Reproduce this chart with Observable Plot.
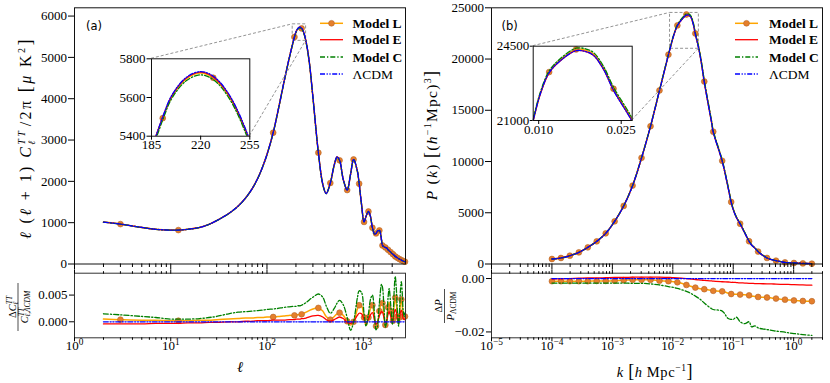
<!DOCTYPE html>
<html><head><meta charset="utf-8">
<script src="https://cdn.jsdelivr.net/npm/d3@7"></script>
<script src="https://cdn.jsdelivr.net/npm/@observablehq/plot@0.6"></script>
<style>
html,body{margin:0;padding:0;background:#fff;}
#fig{position:relative;width:830px;height:383px;overflow:hidden;background:#fff;font-family:"Liberation Serif",serif;}
#fig svg{position:absolute;left:0;top:0;}
#fig svg text{font-family:"Liberation Serif",serif;}
</style></head>
<body><div id="fig"></div>
<script>
// ---------- (a) CMB TT spectrum ----------
const ell = [2,3,5,7,10,12,15,20,25,30,40,50,60,70,80,90,100,116,130,150,170,193,200,210,220,229,240,255,275,300,342,380,412,455,500,535,568,620,681,740,794,870,907,960,1020,1070,1133,1190,1246,1312,1359,1400,1472,1550,1585,1640,1698,1750,1811,1860,1924,2010,2037,2100,2150,2220,2263,2330,2376,2440,2489,2550,2602,2660,2715,2750];
const ttLCDM = [1015,966,884,840,820,821,840,885,960,1050,1220,1400,1600,1820,2070,2350,2650,3180,3700,4400,4980,5500,5618,5705,5734,5710,5618,5380,4900,4050,2700,1933,1706,1960,2400,2592,2513,2050,1790,2180,2530,2250,1950,1450,1020,1150,1271,1150,880,725,740,790,815,580,450,420,400,390,345,320,290,245,238,210,185,165,150,130,120,105,95,82,72,62,55,50];
// relative difference (C_LCDM - C_model)/C_LCDM
const dTT_C = [.0015,.0013,.0010,.0008,.0005,.0005,.0005,.0006,.0008,.0010,
 .0015,.0018,.0019,.0020,.0021,.0022,.0023,.0024,.0025,.0027,
 .0028,.0029,.0029,.0030,.0030,.0031,.0033,.0036,.0041,.0046,
 .0052,.0046,.0030,.0016,.0025,.0035,.0040,.0032,.0008,-.0016,
 .0000,.0045,.0058,.0055,.0015,-.0008,.0015,.0042,.0050,.0012,
 -.0015,-.0010,.0035,.0070,.0065,.0030,-.0010,.0000,.0045,.0062,
 .0035,-.0005,.0005,.0060,.0085,.0055,.0020,-.0008,.0015,.0060,
 .0075,.0050,.0020,.0010,.0018,.0020];
const dTT_L = [.0005,.0004,.0003,.0003,.0002,.0002,.0002,.0003,.0003,.0004,
 .0005,.0006,.0007,.0007,.0008,.0008,.0009,.0009,.0010,.0011,
 .0012,.0012,.0013,.0013,.0014,.0014,.0016,.0018,.0021,.0024,
 .0026,.0020,.0010,.0004,.0010,.0015,.0017,.0012,.0001,-.0006,
 .0000,.0024,.0031,.0030,.0008,-.0007,.0008,.0025,.0031,.0005,
 -.0008,-.0005,.0020,.0037,.0035,.0015,-.0006,.0000,.0027,.0036,
 .0020,-.0003,.0002,.0033,.0045,.0030,.0010,-.0005,.0008,.0035,
 .0042,.0028,.0010,.0006,.0010,.0011];
const dTT_E = [-.0004,-.0004,-.0004,-.0003,-.0003,-.0003,-.0002,-.0002,-.0001,-.0001,
 .0000,.0000,.0001,.0001,.0002,.0002,.0002,.0003,.0003,.0003,
 .0004,.0004,.0005,.0005,.0005,.0006,.0006,.0007,.0009,.0011,
 .0012,.0009,.0004,.0001,.0004,.0007,.0009,.0006,-.0001,-.0003,
 .0001,.0012,.0016,.0015,.0005,-.0003,.0005,.0013,.0017,.0003,
 -.0004,-.0002,.0011,.0019,.0018,.0008,-.0002,.0001,.0014,.0019,
 .0011,.0000,.0002,.0017,.0023,.0016,.0006,-.0001,.0005,.0018,
 .0022,.0014,.0006,.0004,.0005,.0006];
const markerEll = [3,12,116,193,229,342,455,568,681,794,907,1020,1133,1246,1359,1472,1585,1698,1811,1924,2037,2150,2263,2376,2489,2602,2715];

// ---------- (b) matter power spectrum ----------
const kVals = [1.0e-4,1.41e-4,1.98e-4,2.79e-4,3.92e-4,5.51e-4,7.76e-4,1.09e-3,1.54e-3,2.16e-3,
 3.04e-3,4.28e-3,6.02e-3,8.47e-3,9.0e-3,1.03e-2,1.19e-2,1.40e-2,1.68e-2,1.85e-2,
 2.00e-2,2.18e-2,2.36e-2,2.69e-2,2.99e-2,3.32e-2,4.38e-2,4.67e-2,6.57e-2,8.26e-2,
 9.25e-2,0.100,0.1135,0.130,0.156,0.183,0.201,0.228,0.258,0.276,
 0.362,0.430,0.510,0.718,0.810,1.01,1.42,2.00];
const pkLCDM = [488,586,810,1133,1621,2207,2988,4160,5664,7647,
 10352,13438,16924,20411,21000,22258,23250,23830,24290,24250,
 24060,23400,22420,21000,19500,17735,13800,12852,10020,7400,
 6016,5300,4500,3906,3000,2207,1850,1550,1201,1050,
 586,430,322,156,125,98,59,30];
const dP_L = [-.0010,-.0010,-.0010,-.0010,-.0010,-.0009,-.0009,-.0008,-.0006,-.0005,
 -.0005,-.0005,-.0008,-.0010,-.0011,-.0012,-.0014,-.0018,-.0024,-.0027,
 -.0029,-.0032,-.0034,-.0037,-.0039,-.0040,-.0045,-.0046,-.0048,-.0055,
 -.0058,-.0059,-.0059,-.0060,-.0061,-.0063,-.0065,-.0067,-.0069,-.0070,
 -.0071,-.0073,-.0075,-.0079,-.0080,-.0082,-.0084,-.0085];
const dP_E = [-.0002,-.0001,.0000,.0001,.0002,.0002,.0003,.0004,.0004,.0005,
 .0005,.0005,.0005,.0004,.0004,.0003,.0002,.0001,.0000,-.0001,
 -.0002,-.0003,-.0004,-.0005,-.0006,-.0007,-.0009,-.0010,-.0012,-.0013,
 -.0014,-.0014,-.0015,-.0016,-.0017,-.0018,-.0018,-.0019,-.0019,-.0019,
 -.0020,-.0020,-.0021,-.0022,-.0022,-.0023,-.0024,-.0025];
const dP_C = [-.0017,-.0017,-.0017,-.0017,-.0017,-.0017,-.0017,-.0017,-.0017,-.0018,
 -.0018,-.0020,-.0024,-.0030,-.0031,-.0033,-.0037,-.0042,-.0048,-.0052,
 -.0056,-.0061,-.0066,-.0074,-.0082,-.0092,-.0113,-.0116,-.0122,-.0150,
 -.0153,-.0153,-.0145,-.0162,-.0169,-.0162,-.0181,-.0177,-.0185,-.0187,
 -.0191,-.0194,-.0197,-.0201,-.0203,-.0206,-.0210,-.0213];
const markerK = [1.0e-4,1.41e-4,1.98e-4,2.79e-4,3.92e-4,5.51e-4,7.76e-4,1.09e-3,1.54e-3,2.16e-3,
 3.04e-3,4.28e-3,6.02e-3,8.47e-3,1.19e-2,1.68e-2,2.36e-2,3.32e-2,4.67e-2,6.57e-2,
 9.25e-2,0.130,0.183,0.258,0.362,0.510,0.718,1.01,1.42,2.00];

// ---------- ticks, labels, ranges ----------
const ellMajor = [1,10,100,1000], ellExp = ["0","1","2","3"];
const kMajor = [1e-5,1e-4,1e-3,1e-2,1e-1,1], kExp = ["−5","−4","−3","−2","−1","0"];
const ttTicks = [0,1000,2000,3000,4000,5000,6000];
const pTicks = [0,5000,10000,15000,20000,25000];
const dTTTicks = [0,0.005], dTTTickLabels = ["0.000","0.005"];
const dPTicks = [-0.02,0], dPTickLabels = ["−0.02","0.00"];
const insetEllRange = [185,255], insetTTRange = [5400,5800];
const insetEllTicks = [185,220,255], insetTTTicks = [5400,5600,5800];
const insetKRange = [0.009,0.027], insetPRange = [21000,24500];
const insetKTicks = [0.010,0.025], insetKTickLabels = ["0.010","0.025"];
const insetPTicks = [21000,24500];
const seriesNames = ["Model L","Model E","Model C","ΛCDM"];

// ---------- tables ----------
const leftRows = ell.map((l,i)=>({x:l, lcdm:ttLCDM[i], L:ttLCDM[i]*(1-dTT_L[i]), E:ttLCDM[i]*(1-dTT_E[i]), C:ttLCDM[i]*(1-dTT_C[i]), rL:dTT_L[i], rE:dTT_E[i], rC:dTT_C[i], r0:0}));
const rightRows = kVals.map((k,i)=>({x:k, lcdm:pkLCDM[i], L:pkLCDM[i]*(1-dP_L[i]), E:pkLCDM[i]*(1-dP_E[i]), C:pkLCDM[i]*(1-dP_C[i]), rL:dP_L[i], rE:dP_E[i], rC:dP_C[i], r0:0}));
const leftMarks = leftRows.filter(d=>markerEll.includes(d.x));
const rightMarks = rightRows.filter(d=>markerK.includes(d.x));

const ellMinor = []; for (const p of [1,10,100,1000]) for (let m=2;m<=9;m++){ if (m*p<=2750) ellMinor.push(m*p); }
const kMinor = []; for (const p of [1e-5,1e-4,1e-3,1e-2,1e-1,1]) for (let m=2;m<=9;m++){ if (m*p<=3) kMinor.push(m*p); }

// ---------- styles ----------
const W = 830, H = 383;
const FONT = '"Liberation Serif", serif';
const baseStyle = {fontFamily: FONT, fontSize:"13px", color:"#000", background:"transparent", overflow:"visible"};
const sL = {stroke:"#ffa500", strokeWidth:1.5};
const sE = {stroke:"#ff0000", strokeWidth:1.3};
const sC = {stroke:"#008000", strokeWidth:1.3, strokeDasharray:"5,2,1.3,2"};
const s0 = {stroke:"#0000ff", strokeWidth:1.3, strokeDasharray:"5,1.6,1.2,1.6,1.2,1.6"};
const dotStyle = {r:2.9, fill:"#e57f2c", stroke:"#b3652a", strokeWidth:0.6};
const CURVE = "catmull-rom";

function seriesMarks(rows, marks, keys, clip){
  const [kL,kE,kC,k0] = keys;
  const o = {x:"x", curve:CURVE, clip};
  return [
    Plot.line(rows, {...o, y:kL, ...sL}),
    Plot.dot(marks, {x:"x", y:kL, clip, ...dotStyle}),
    Plot.line(rows, {...o, y:kE, ...sE}),
    Plot.line(rows, {...o, y:kC, ...sC}),
    Plot.line(rows, {...o, y:k0, ...s0})
  ];
}
function mk(opts){ return Plot.plot({width:W, height:H, style:baseStyle, ...opts}); }
function fixText(svg){
  d3.select(svg).attr("font-family", FONT).attr("font-size", 13);
  d3.select(svg).selectAll("text").attr("font-family", FONT).style("font-family", FONT).each(function(){
    const m = /^10\^(.+)$/.exec(this.textContent);
    if (m){ const s=d3.select(this); s.text(null); s.append("tspan").text("10"); s.append("tspan").attr("dy","-0.5em").attr("font-size","0.72em").text(m[1]); }
  });
  return svg;
}
const blank = () => "";
const fig = document.getElementById("fig");
const add = svg => { fig.appendChild(svg); return svg; };

// ---------- (a) main ----------
const mainL = mk({
  marginLeft:74, marginRight:W-405, marginTop:7.3, marginBottom:H-263.5,
  x:{type:"log", domain:[1,2750]}, y:{domain:[0,6200]},
  marks:[
    Plot.rect([{x1:insetEllRange[0],x2:insetEllRange[1],y1:insetTTRange[0],y2:insetTTRange[1]}],{x1:"x1",x2:"x2",y1:"y1",y2:"y2",fill:"none",stroke:"#888",strokeWidth:0.9,strokeDasharray:"3,2"}),
    ...seriesMarks(leftRows, leftMarks, ["L","E","C","lcdm"], false),
    Plot.frame({stroke:"#111", strokeWidth:1}),
    Plot.axisY({ticks:ttTicks, tickSize:6, tickPadding:1.5, tickFormat:d=>String(d), label:null}),
    Plot.axisX({ticks:ellMajor, tickSize:6, tickFormat:blank, label:null}),
    Plot.axisX({ticks:ellMinor, tickSize:3.5, tickFormat:blank, label:null})
  ]
});
// ---------- (b) main ----------
const mainR = mk({
  marginLeft:491, marginRight:W-822, marginTop:7.3, marginBottom:H-263.5,
  x:{type:"log", domain:[1e-5,3]}, y:{domain:[0,25000]},
  marks:[
    Plot.rect([{x1:insetKRange[0],x2:insetKRange[1],y1:insetPRange[0],y2:insetPRange[1]}],{x1:"x1",x2:"x2",y1:"y1",y2:"y2",fill:"none",stroke:"#888",strokeWidth:0.9,strokeDasharray:"3,2"}),
    ...seriesMarks(rightRows, rightMarks, ["L","E","C","lcdm"], false),
    Plot.frame({stroke:"#111", strokeWidth:1}),
    Plot.axisY({ticks:pTicks, tickSize:6, tickPadding:1.5, tickFormat:d=>String(d), label:null}),
    Plot.axisX({ticks:kMajor, tickSize:6, tickFormat:blank, label:null}),
    Plot.axisX({ticks:kMinor, tickSize:3.5, tickFormat:blank, label:null})
  ]
});
// ---------- (a) ratio ----------
const botL = mk({
  marginLeft:74, marginRight:W-405, marginTop:272.7, marginBottom:H-337.3,
  x:{type:"log", domain:[1,2750]}, y:{domain:[-0.0030,0.0091]},
  marks:[
    ...seriesMarks(leftRows, leftMarks, ["rL","rE","rC","r0"], false),
    Plot.frame({stroke:"#333", strokeWidth:1}),
    Plot.axisY({ticks:dTTTicks, tickSize:5, tickPadding:2, tickFormat:d=>dTTTickLabels[dTTTicks.indexOf(d)], label:null}),
    Plot.axisX({anchor:"top", ticks:ellMajor, tickSize:4, tickFormat:blank, label:null}),
    Plot.axisX({anchor:"top", ticks:ellMinor, tickSize:2.5, tickFormat:blank, label:null}),
    Plot.axisX({ticks:ellMajor, tickSize:4, tickPadding:-1, tickFormat:d=>"10^"+ellExp[ellMajor.indexOf(d)], label:null}),
    Plot.axisX({ticks:ellMinor, tickSize:2.5, tickFormat:blank, label:null})
  ]
});
// ---------- (b) ratio ----------
const botR = mk({
  marginLeft:491, marginRight:W-822, marginTop:272.7, marginBottom:H-337.3,
  x:{type:"log", domain:[1e-5,3]}, y:{domain:[-0.0222,0.002]},
  marks:[
    ...seriesMarks(rightRows, rightMarks, ["rL","rE","rC","r0"], false),
    Plot.frame({stroke:"#333", strokeWidth:1}),
    Plot.axisY({ticks:dPTicks, tickSize:5, tickPadding:2, tickFormat:d=>dPTickLabels[dPTicks.indexOf(d)], label:null}),
    Plot.axisX({anchor:"top", ticks:kMajor, tickSize:4, tickFormat:blank, label:null}),
    Plot.axisX({anchor:"top", ticks:kMinor, tickSize:2.5, tickFormat:blank, label:null}),
    Plot.axisX({ticks:kMajor, tickSize:4, tickPadding:-1, tickFormat:d=>"10^"+kExp[kMajor.indexOf(d)], label:null}),
    Plot.axisX({ticks:kMinor, tickSize:2.5, tickFormat:blank, label:null})
  ]
});
// ---------- insets ----------
const insL = mk({
  marginLeft:151, marginRight:W-249.3, marginTop:58.3, marginBottom:H-135.7,
  x:{domain:insetEllRange}, y:{domain:insetTTRange},
  marks:[
    Plot.frame({fill:"#fff", stroke:"none"}),
    ...seriesMarks(leftRows, leftMarks, ["L","E","C","lcdm"], true),
    Plot.frame({stroke:"#111", strokeWidth:1}),
    Plot.axisY({ticks:insetTTTicks, tickSize:4.5, tickPadding:1.5, tickFormat:d=>String(d), label:null}),
    Plot.axisX({ticks:insetEllTicks, tickSize:4, tickPadding:0, tickFormat:d=>String(d), label:null})
  ]
});
const insR = mk({
  marginLeft:532.7, marginRight:W-631.7, marginTop:45.7, marginBottom:H-120,
  x:{domain:insetKRange}, y:{domain:insetPRange},
  marks:[
    Plot.frame({fill:"#fff", stroke:"none"}),
    ...seriesMarks(rightRows, rightMarks, ["L","E","C","lcdm"], true),
    Plot.frame({stroke:"#111", strokeWidth:1}),
    Plot.axisY({ticks:insetPTicks, tickSize:3, tickPadding:1, tickFormat:d=>String(d), label:null}),
    Plot.axisX({ticks:insetKTicks, tickSize:4, tickPadding:0, tickFormat:d=>insetKTickLabels[insetKTicks.indexOf(d)], label:null})
  ]
});

[mainL, mainR, botL, botR].forEach(s=>add(fixText(s)));

// connectors between zoom rectangles and insets (from the scales)
const svgNS = "http://www.w3.org/2000/svg";
function pt(svg, x, y){ return [svg.scale("x").apply(x), svg.scale("y").apply(y)]; }
const conn = [
  [pt(insL, insetEllRange[0], insetTTRange[1]), pt(mainL, insetEllRange[0], insetTTRange[1])],
  [pt(insL, insetEllRange[1], insetTTRange[0]), pt(mainL, insetEllRange[1], insetTTRange[0])],
  [pt(insR, insetKRange[0], insetPRange[1]), pt(mainR, insetKRange[0], insetPRange[1])],
  [pt(insR, insetKRange[1], insetPRange[0]), pt(mainR, insetKRange[1], insetPRange[0])]
];
const cs = document.createElementNS(svgNS,"svg");
cs.setAttribute("width",W); cs.setAttribute("height",H);
cs.innerHTML = conn.map(([a,b])=>`<line x1="${a[0]}" y1="${a[1]}" x2="${b[0]}" y2="${b[1]}" stroke="#888" stroke-width="0.9" stroke-dasharray="3,2"/>`).join("");
add(cs);
add(fixText(insL)); add(fixText(insR));

// ---------- legends and labels ----------
const ov = document.createElementNS(svgNS,"svg");
ov.setAttribute("width",W); ov.setAttribute("height",H);
ov.setAttribute("font-family", FONT);
const rowsY = [23.3, 39.7, 57, 74];
const styles = [sL, sE, sC, s0];
function legend(x1, x2, tx){
  let s = "";
  seriesNames.forEach((name,i)=>{
    const st = styles[i], y = rowsY[i];
    s += `<line x1="${x1}" x2="${x2}" y1="${y}" y2="${y}" stroke="${st.stroke}" stroke-width="${st.strokeWidth}" ${st.strokeDasharray?`stroke-dasharray="${st.strokeDasharray}"`:""}/>`;
    if (i===0) s += `<circle cx="${(x1+x2)/2}" cy="${y}" r="${dotStyle.r}" fill="${dotStyle.fill}" stroke="${dotStyle.stroke}" stroke-width="0.6"/>`;
    s += `<text x="${tx}" y="${y+4.5}" font-size="13.5" ${i<3?'font-weight="bold"':''}>${name}</text>`;
  });
  return s;
}
ov.innerHTML = `
${legend(320,343,352.5)}
${legend(735,758,769)}
<text x="86" y="29.5" style="font-family:'DejaVu Sans',sans-serif;font-size:11.5px">(a)</text>
<text x="501.5" y="29.5" style="font-family:'DejaVu Sans',sans-serif;font-size:11.5px">(b)</text>
<text transform="translate(31,138) rotate(-90)" text-anchor="middle" font-size="16" letter-spacing="2.4"><tspan font-style="italic">ℓ</tspan> (<tspan font-style="italic">ℓ</tspan> + 1) <tspan font-style="italic">C</tspan><tspan font-style="italic" font-size="10" dy="-6.5">TT</tspan><tspan font-style="italic" font-size="10" dx="-16" dy="10">ℓ</tspan><tspan dx="12" dy="-3.5">/2π  </tspan><tspan font-size="18">[</tspan><tspan font-style="italic">μ</tspan> K<tspan font-size="10" dy="-6.5">2</tspan><tspan font-size="18" dy="6.5">]</tspan></text>
<text transform="translate(437,135) rotate(-90)" text-anchor="middle" font-size="15.5" letter-spacing="1.3"><tspan font-style="italic">P</tspan> (<tspan font-style="italic">k</tspan>)   <tspan font-size="18">[</tspan>(<tspan font-style="italic">h</tspan><tspan font-size="10" dy="-6.5">−1</tspan><tspan dy="6.5">Mpc)</tspan><tspan font-size="10" dy="-6.5">3</tspan><tspan font-size="18" dy="6.5">]</tspan></text>
<g transform="translate(18,307) rotate(-90)">
  <text text-anchor="middle" y="-2.5" font-size="10.5"><tspan>Δ</tspan><tspan font-style="italic">C</tspan><tspan font-style="italic" font-size="7.5" dy="-4">TT</tspan><tspan font-style="italic" font-size="7.5" dx="-9" dy="6">ℓ</tspan></text>
  <line x1="-24" x2="24" y1="0" y2="0" stroke="#000" stroke-width="0.7"/>
  <text text-anchor="middle" y="9.5" font-size="10.5"><tspan font-style="italic">C</tspan><tspan font-style="italic" font-size="7.5" dy="-4">TT</tspan><tspan font-style="italic" font-size="7.5" dx="-9" dy="6.5">ℓ,ΛCDM</tspan></text>
</g>
<g transform="translate(444.5,306) rotate(-90)">
  <text text-anchor="middle" y="-2.5" font-size="10.5">Δ<tspan font-style="italic">P</tspan></text>
  <line x1="-17" x2="17" y1="0" y2="0" stroke="#000" stroke-width="0.7"/>
  <text text-anchor="middle" y="9" font-size="10.5"><tspan font-style="italic">P</tspan><tspan font-size="7.5" dy="2.5">ΛCDM</tspan></text>
</g>
<text x="240" y="372" text-anchor="middle" font-size="15" font-style="italic">ℓ</text>
<text x="655" y="377" text-anchor="middle" font-size="14.5" letter-spacing="0.6"><tspan font-style="italic">k</tspan> <tspan font-size="18">[</tspan><tspan font-style="italic">h</tspan> Mpc<tspan font-size="9.5" dy="-6">−1</tspan><tspan font-size="18" dy="6">]</tspan></text>
`;
add(ov);
</script>
</body></html>
